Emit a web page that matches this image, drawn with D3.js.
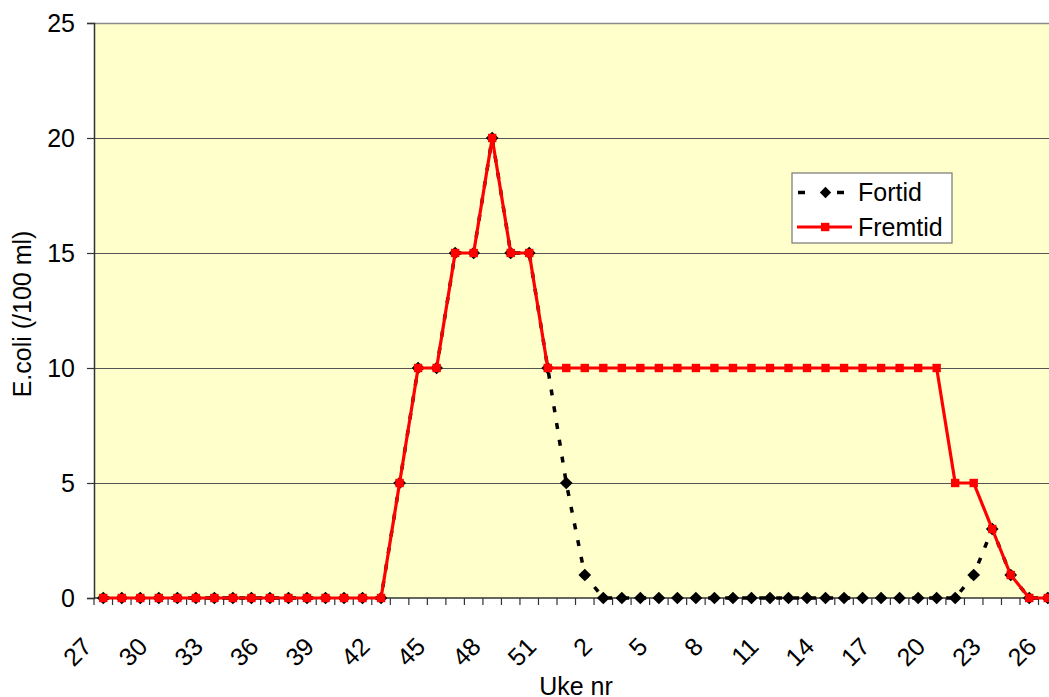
<!DOCTYPE html>
<html><head><meta charset="utf-8">
<script src="https://cdn.jsdelivr.net/npm/d3@7/dist/d3.min.js"></script>
<style>
html,body{margin:0;padding:0;background:#fff;overflow:hidden;}
svg text{font-family:"Liberation Sans",Arial,sans-serif;fill:#000;}
</style></head><body>
<svg id="chart" width="1049" height="697"></svg>
<script>
const weeks = [27,28,29,30,31,32,33,34,35,36,37,38,39,40,41,42,43,44,45,46,47,48,49,50,51,52,
               1,2,3,4,5,6,7,8,9,10,11,12,13,14,15,16,17,18,19,20,21,22,23,24,25,26];
const fortid = [0,0,0,0,0,0,0,0,0,0,0,0,0,0,0,0,
                5,10,10,15,15,20,15,15,10,
                5,1,
                0,0,0,0,0,0,0,0,0,0,0,0,0,0,0,0,0,0,0,0,
                1,3,1,0,0];
const fremtid = [0,0,0,0,0,0,0,0,0,0,0,0,0,0,0,0,
                 5,10,10,15,15,20,15,15,10,
                 10,10,10,10,10,10,10,10,10,10,10,10,10,10,10,10,10,10,10,10,10,
                 5,5,3,1,0,0];
const yTicks = [0,5,10,15,20,25];
const seriesNames = ["Fortid","Fremtid"];

const svg = d3.select("#chart");
const x0 = 94, bw = 18.52;
const x = d3.scaleBand().domain(d3.range(weeks.length)).range([x0, x0 + bw*weeks.length]).padding(0);
const y = d3.scaleLinear().domain([0,25]).range([598,23]);
const cx = i => x(i) + x.bandwidth()/2;

// plot background
svg.append("rect").attr("x", x0).attr("y", y(25)).attr("width", bw*weeks.length).attr("height", y(0)-y(25)).attr("fill","#FFFFCC");

// gridlines
svg.append("g").selectAll("line").data(yTicks.filter(t=>t>0)).join("line")
  .attr("x1", x0).attr("x2", x0 + bw*weeks.length)
  .attr("y1", d=>y(d)+0.5).attr("y2", d=>y(d)+0.5)
  .attr("stroke", d=> d===25 ? "#8a8a8a" : "#555").attr("stroke-width", d=> d===25 ? 1.5 : 1.2);

// y axis
const yAxis = svg.append("g").attr("transform", `translate(${x0},0)`)
  .call(d3.axisLeft(y).tickValues(yTicks).tickSize(7).tickPadding(12));
yAxis.select(".domain").attr("stroke","#333").attr("stroke-width",1.5);
yAxis.selectAll(".tick line").attr("stroke","#333").attr("stroke-width",1.2);
yAxis.selectAll("text").attr("font-size","25px").attr("font-family","Liberation Sans, Arial, sans-serif").attr("fill","#000");

// x axis line and ticks at band boundaries
svg.append("line").attr("x1",x0).attr("x2",x0+bw*weeks.length).attr("y1",y(0)).attr("y2",y(0)).attr("stroke","#333").attr("stroke-width",1.5);
svg.append("g").selectAll("line").data(d3.range(weeks.length+1)).join("line")
  .attr("x1", i=>x0+i*bw).attr("x2", i=>x0+i*bw).attr("y1", y(0)).attr("y2", y(0)+7)
  .attr("stroke","#333").attr("stroke-width",1.2);

// x tick labels
svg.append("g").selectAll("text").data(d3.range(0, weeks.length, 3)).join("text")
  .attr("transform", i=>`translate(${cx(i)-16},642) rotate(-45)`)
  .attr("text-anchor","end").attr("dy","0.35em").attr("font-size","25px")
  .text(i=>weeks[i]);

// axis titles
svg.append("text").attr("x",576).attr("y",695).attr("text-anchor","middle").attr("font-size","25px").text("Uke nr");
svg.append("text").attr("transform","translate(31,314) rotate(-90)").attr("text-anchor","middle").attr("font-size","25px").text("E.coli (/100 ml)");

const line = d3.line().x((d,i)=>cx(i)).y(d=>y(d));

// Fortid
svg.append("path").datum(fortid).attr("d", line).attr("fill","none")
  .attr("stroke","#000").attr("stroke-width",3.5).attr("stroke-dasharray","6,11");
svg.append("g").selectAll("path").data(fortid).join("path")
  .attr("transform",(d,i)=>`translate(${cx(i)},${y(d)}) rotate(45)`)
  .attr("d", d3.symbol().type(d3.symbolSquare).size(81)).attr("fill","#000");

// Fremtid
svg.append("path").datum(fremtid).attr("d", line).attr("fill","none")
  .attr("stroke","#FF0000").attr("stroke-width",3.2);
svg.append("g").selectAll("rect").data(fremtid).join("rect")
  .attr("x",(d,i)=>cx(i)-4.2).attr("y",d=>y(d)-4.2).attr("width",8.4).attr("height",8.4).attr("fill","#FF0000");

// legend
const lg = svg.append("g");
lg.append("rect").attr("x",792).attr("y",173).attr("width",160).attr("height",70).attr("fill","#fff").attr("stroke","#777").attr("stroke-width",1.2);
lg.append("line").attr("x1",798).attr("x2",805).attr("y1",192.5).attr("y2",192.5).attr("stroke","#000").attr("stroke-width",3.5);
lg.append("line").attr("x1",837).attr("x2",844).attr("y1",192.5).attr("y2",192.5).attr("stroke","#000").attr("stroke-width",3.5);
lg.append("path").attr("transform","translate(825.5,192.5) rotate(45)").attr("d", d3.symbol().type(d3.symbolSquare).size(64)).attr("fill","#000");
lg.append("text").attr("x",858).attr("y",200.5).attr("font-size","25px").text(seriesNames[0]);
lg.append("line").attr("x1",797).attr("x2",852).attr("y1",227).attr("y2",227).attr("stroke","#FF0000").attr("stroke-width",3.2);
lg.append("rect").attr("x",821).attr("y",222.8).attr("width",8.4).attr("height",8.4).attr("fill","#FF0000");
lg.append("text").attr("x",858).attr("y",236).attr("font-size","25px").text(seriesNames[1]);
</script>
</body></html>
